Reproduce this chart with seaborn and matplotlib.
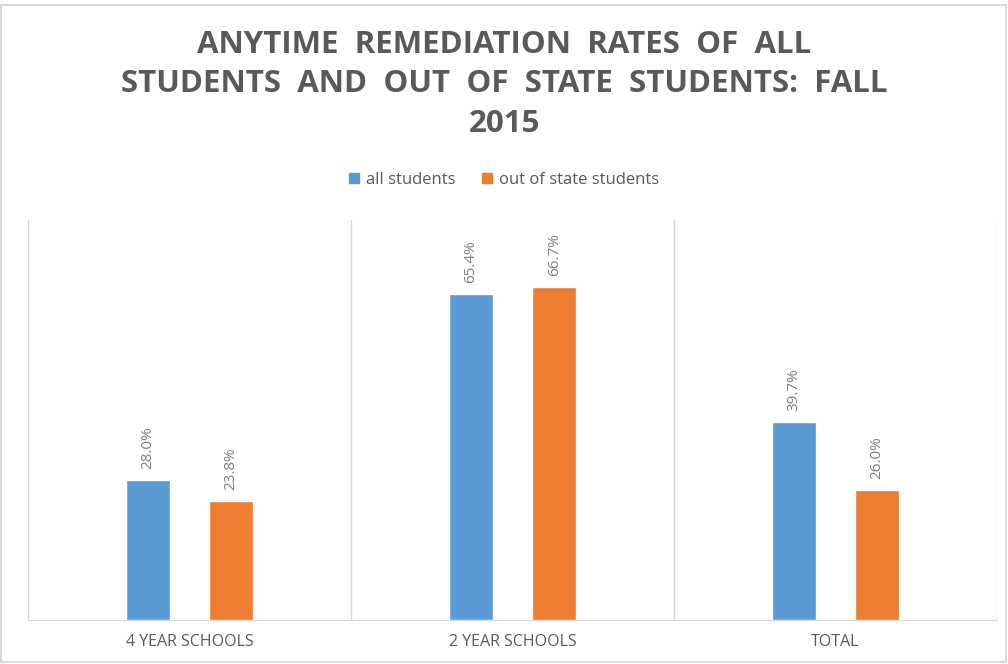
import pandas as pd
import seaborn as sns
from matplotlib import pyplot as plt
from matplotlib.patches import Rectangle

categories = ['4 YEAR SCHOOLS', '2 YEAR SCHOOLS', 'TOTAL']
all_students = [28.0, 65.4, 39.7]
out_of_state = [23.8, 66.7, 26.0]
series_names = ['all students', 'out of state students']

df = pd.DataFrame({
    'category': categories * 2,
    'rate': all_students + out_of_state,
    'group': [series_names[0]] * 3 + [series_names[1]] * 3,
})

sns.set_style('white')
plt.rcParams['font.family'] = ['Open Sans', 'DejaVu Sans']

fig = plt.figure(figsize=(10.08, 6.64), dpi=100)
ax = fig.add_axes([0.0278, 0.0663, 0.9612, 0.6024])

palette = {'all students': '#5B9BD5', 'out of state students': '#ED7D31'}
sns.barplot(data=df, x='category', y='rate', hue='group', palette=palette,
            width=0.516, gap=0.47, saturation=1, ax=ax, legend=False)

for cont in ax.containers:
    ax.bar_label(cont, labels=[f'{v:.1f}%' for v in cont.datavalues],
                 rotation=90, padding=8, color='#7F7F7F', fontsize=11)

ax.set_ylim(0, 80.2)
ax.set_xlim(-0.5, 2.5)
ax.set_yticks([])
ax.set_xlabel('')
ax.set_ylabel('')
for s in ['top', 'right', 'left']:
    ax.spines[s].set_visible(False)
ax.spines['bottom'].set_color('#D9D9D9')
for xv in [-0.5, 0.5, 1.5, 2.5]:
    ax.axvline(xv, color='#D9D9D9', lw=1)
ax.tick_params(axis='x', length=0, pad=10, colors='#595959', labelsize=11.5)

fig.text(0.5, 0.873, 'ANYTIME  REMEDIATION  RATES  OF  ALL\nSTUDENTS  AND  OUT  OF  STATE  STUDENTS:  FALL\n2015',
         ha='center', va='center', fontsize=22.5, fontweight='bold', color='#595959',
         linespacing=1.42)

handles = [Rectangle((0, 0), 1, 1, color=palette[n]) for n in series_names]
fig.legend(handles, series_names, loc='center', bbox_to_anchor=(0.5, 0.729), ncol=2,
           frameon=False, fontsize=12, handlelength=0.6, handleheight=0.6,
           handletextpad=0.4, columnspacing=1.6, labelcolor='#595959')

fig.patches.append(Rectangle((0.001, 0.003), 0.997, 0.99, transform=fig.transFigure,
                             fill=False, edgecolor='#D9D9D9', lw=1.5))

fig.savefig('out.png', dpi=100)
